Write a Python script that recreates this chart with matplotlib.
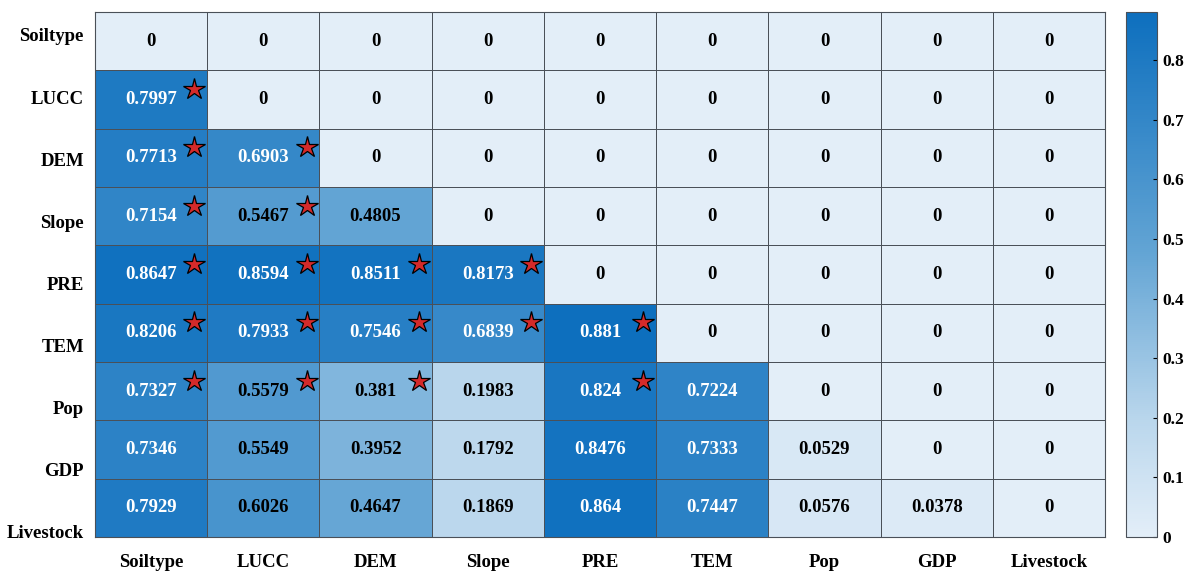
import numpy as np
import matplotlib
matplotlib.use("Agg")
import matplotlib.pyplot as plt
from matplotlib.colors import LinearSegmentedColormap

factors = ["Soiltype", "LUCC", "DEM", "Slope", "PRE", "TEM", "Pop", "GDP", "Livestock"]

# Interaction q-values (row factor x column factor), lower triangle filled
q_soiltype  = [0, 0, 0, 0, 0, 0, 0, 0, 0]
q_lucc      = [0.7997, 0, 0, 0, 0, 0, 0, 0, 0]
q_dem       = [0.7713, 0.6903, 0, 0, 0, 0, 0, 0, 0]
q_slope     = [0.7154, 0.5467, 0.4805, 0, 0, 0, 0, 0, 0]
q_pre       = [0.8647, 0.8594, 0.8511, 0.8173, 0, 0, 0, 0, 0]
q_tem       = [0.8206, 0.7933, 0.7546, 0.6839, 0.881, 0, 0, 0, 0]
q_pop       = [0.7327, 0.5579, 0.381, 0.1983, 0.824, 0.7224, 0, 0, 0]
q_gdp       = [0.7346, 0.5549, 0.3952, 0.1792, 0.8476, 0.7333, 0.0529, 0, 0]
q_livestock = [0.7929, 0.6026, 0.4647, 0.1869, 0.864, 0.7447, 0.0576, 0.0378, 0]

# Cells flagged as significant (row, column)
significant = [
    (1, 0),
    (2, 0), (2, 1),
    (3, 0), (3, 1),
    (4, 0), (4, 1), (4, 2), (4, 3),
    (5, 0), (5, 1), (5, 2), (5, 3), (5, 4),
    (6, 0), (6, 1), (6, 2), (6, 4),
]

q = np.array([q_soiltype, q_lucc, q_dem, q_slope, q_pre, q_tem,
              q_pop, q_gdp, q_livestock])
n = len(factors)

plt.rcParams["font.family"] = ["Liberation Serif", "DejaVu Serif"]
plt.rcParams["font.weight"] = "bold"

cmap = LinearSegmentedColormap.from_list(
    "blues_q",
    [(0.0, "#e3eef8"), (0.225, "#b9d6ec"), (0.545, "#62a4d4"), (1.0, "#0d6fbe")],
)

fig = plt.figure(figsize=(11.92, 5.74), dpi=100)
ax = fig.add_axes([95 / 1192, 1 - 537 / 574, 1010 / 1192, 525 / 574])
cax = fig.add_axes([1126 / 1192, 1 - 537 / 574, 31 / 1192, 525 / 574])

grid_color = "#4a5058"
vmax = q.max()
im = ax.pcolormesh(np.arange(n + 1), np.arange(n + 1), q, cmap=cmap,
                   vmin=0, vmax=vmax, edgecolor=grid_color, linewidth=0.6)
ax.set_xlim(0, n)
ax.set_ylim(n, 0)

for i in range(n):
    for j in range(n):
        v = q[i, j]
        txt = "0" if v == 0 else f"{v:g}"
        ax.text(j + 0.5, i + 0.5, txt, ha="center", va="center",
                fontsize=13.5, fontweight="bold",
                color="white" if v > 0.65 else "black")

rows = [r for r, c in significant]
cols = [c for r, c in significant]
ax.plot(np.array(cols) + 0.885, np.array(rows) + 0.32, linestyle="none",
        marker="*", markersize=16, markerfacecolor="#d42a2a",
        markeredgecolor="black", markeredgewidth=0.9)

ax.set_xticks(np.arange(n) + 0.5)
ax.set_xticklabels(factors, fontsize=13.5, fontweight="bold")
ax.set_yticks(0.394 + 1.065 * np.arange(n))
ax.set_yticklabels(factors, fontsize=13.5, fontweight="bold")
ax.tick_params(length=0, pad=12, axis="x")
ax.tick_params(length=0, pad=8, axis="y")
for s in ax.spines.values():
    s.set_color(grid_color)
    s.set_linewidth(0.8)

cb = fig.colorbar(im, cax=cax)
cb.set_ticks([0, 0.1, 0.2, 0.3, 0.4, 0.5, 0.6, 0.7, 0.8])
cb.set_ticklabels(["0", "0.1", "0.2", "0.3", "0.4", "0.5", "0.6", "0.7", "0.8"])
cb.ax.tick_params(labelsize=12.5, length=3, width=0.8, direction="in", pad=4)
cb.outline.set_edgecolor(grid_color)
cb.outline.set_linewidth(0.8)

fig.savefig("out.png", dpi=100)
